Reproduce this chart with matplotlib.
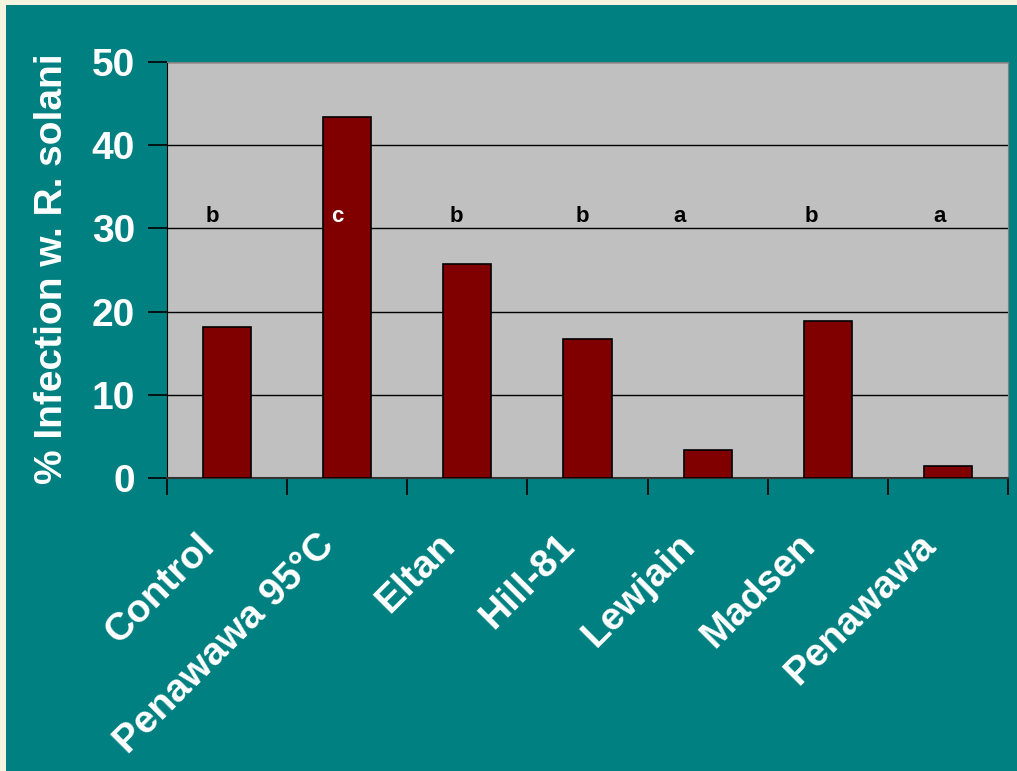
import numpy as np
import matplotlib.pyplot as plt
from matplotlib.patches import Rectangle
from matplotlib.transforms import offset_copy

plt.rcParams['font.family'] = ['Liberation Sans', 'DejaVu Sans']

cultivars = ['Control', 'Penawawa 95°C', 'Eltan', 'Hill-81', 'Lewjain', 'Madsen', 'Penawawa']
infection = [18.1, 43.4, 25.7, 16.7, 3.4, 18.9, 1.4]
groups = ['b', 'c', 'b', 'b', 'a', 'b', 'a']
letter_y = 31.4

TEAL = '#008080'
letter_dx = [-0.12, -0.08, -0.09, -0.04, -0.23, -0.14, -0.07]

fig = plt.figure(figsize=(10.17, 7.71), dpi=100, facecolor='#f4f4df')
fig.patches.append(Rectangle((6 / 1017, 0), 1, 1 - 5 / 771, transform=fig.transFigure,
                             facecolor=TEAL, edgecolor='none', zorder=-10))
ax = fig.add_axes([167 / 1017, 1 - 478 / 771, 841 / 1017, 416 / 771])
ax.set_zorder(5)
ax.set_facecolor('#c0c0c0')

x = np.arange(len(cultivars))
ax.bar(x, infection, 0.4, color='#800000', edgecolor='black', linewidth=1.2, zorder=3)

for i, g in enumerate(groups):
    ax.text(x[i] + letter_dx[i], letter_y, g, ha='center', va='center', fontsize=16,
            fontweight='bold', color='white' if g == 'c' else 'black', zorder=4)

ax.set_xlim(-0.5, len(cultivars) - 0.5)
ax.set_ylim(0, 50)
ax.set_yticks([0, 10, 20, 30, 40, 50])
ax.yaxis.grid(True, color='black', linewidth=1)
ax.set_axisbelow(True)

# ticks sit between categories, names are placed as rotated texts
ax.set_xticks(np.arange(len(cultivars) + 1) - 0.5)
ax.set_xticklabels([])
ax.tick_params(axis='x', length=12, width=1.2, color='black', direction='out')
name_tr = offset_copy(ax.get_xaxis_transform(), fig=fig, x=-18, y=-62, units='dots')
for i, name in enumerate(cultivars):
    ax.text(x[i], 0, name, transform=name_tr, rotation=45, ha='right', va='center',
            rotation_mode='anchor', fontsize=28, fontweight='bold', color='white',
            clip_on=False)

ax.tick_params(axis='y', length=14, width=1.2, color='black', direction='out',
               labelsize=28, labelcolor='white', pad=9)
for lab in ax.get_yticklabels():
    lab.set_fontweight('bold')

ax.spines['left'].set_color('black')
ax.spines['bottom'].set_color('#333333')
ax.spines['bottom'].set_linewidth(1.5)
ax.spines['top'].set_color('#808080')
ax.spines['right'].set_color('#808080')

ax.set_ylabel('% Infection w. R. solani', fontsize=28, fontweight='bold', color='white')
ax.yaxis.set_label_coords(-0.115, 0.504)

fig.savefig('out.png', dpi=100, facecolor=fig.get_facecolor())
